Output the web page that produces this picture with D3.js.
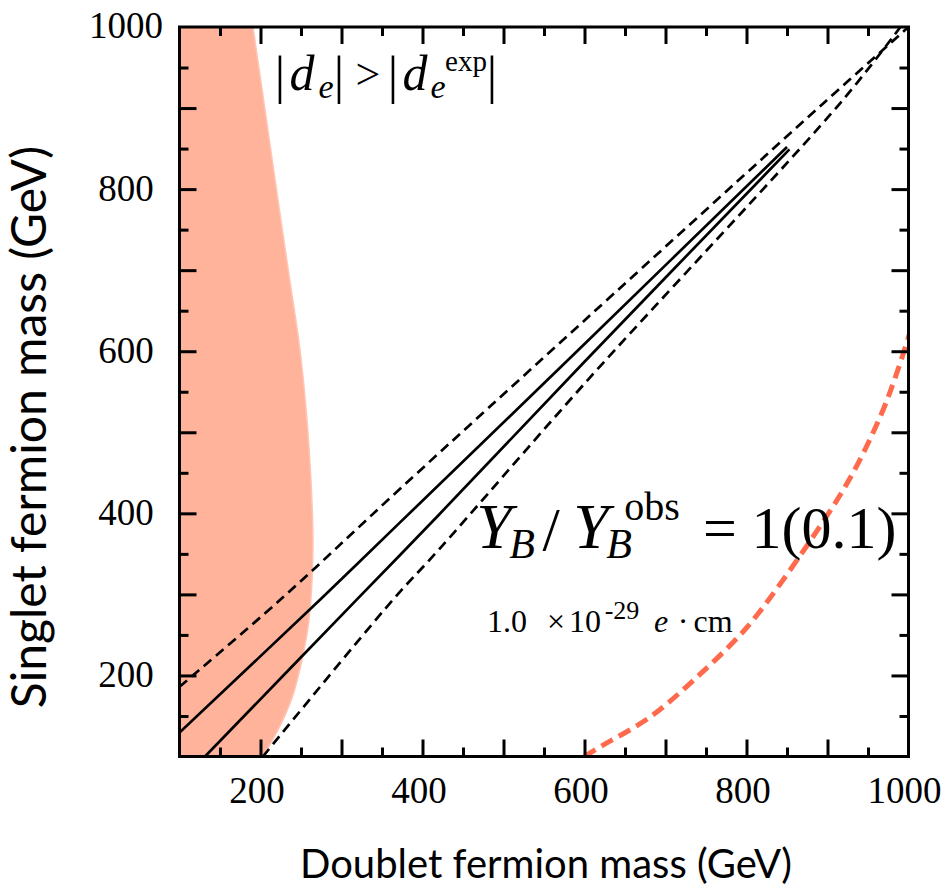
<!DOCTYPE html>
<html>
<head>
<meta charset="utf-8">
<script src="https://cdn.jsdelivr.net/npm/d3@7"></script>
<style>
  html, body { margin: 0; padding: 0; background: #fff; }
  svg { display: block; }
</style>
</head>
<body>
<svg id="chart" width="947" height="890"></svg>
<script>
// Axis ranges and tick values (GeV)
const xDomain = [100, 1000];
const yDomain = [100, 1000];
const majorTicks = [200, 300, 400, 500, 600, 700, 800, 900];
const minorTicks = [150, 250, 350, 450, 550, 650, 750, 850, 950];
const labelledTicks = [200, 400, 600, 800, 1000];

// EDM-excluded region: right boundary (doublet, singlet), top to bottom
const edmBoundary = [
  [190.7, 1000], [205.6, 897.6], [221.6, 786.6], [235.2, 694.1], [248.8, 601.5],
  [257.4, 515.1], [262.3, 441.1], [264.8, 367.1], [263.6, 317.8], [259.9, 268.4],
  [251.2, 219], [238.9, 172.2], [221.6, 132.7], [203, 100]
];

// Y_B / Y_B^obs contours: solid = 1, dashed = 0.1
const solidUpper = [[100, 129.5], [273.5, 293.5], [372, 388.5], [600, 609], [850, 852]];
const solidLower = [[131.5, 100], [318.8, 293.5], [420, 398], [600, 587], [853, 849]];
const dashedUpper = [[100, 186], [224, 293], [372, 430], [600, 638], [894, 905], [1000, 1000]];
const dashedLower = [[203, 100], [363.6, 293.5], [420, 355], [600, 560], [919, 910], [990, 1000]];

// |d_e| = 1.0e-29 e cm contour
const edmContour = [
  [600, 100], [619, 111.7], [681, 148.7], [739, 198.1], [791, 248.7],
  [815, 277], [873.5, 358.5], [926.5, 441], [965, 519], [985.4, 572.7], [1002, 624]
];

const svg = d3.select("#chart");
const plot = { left: 179.5, right: 908.5, top: 27, bottom: 756.5 };

const x = d3.scaleLinear().domain(xDomain).range([plot.left, plot.right]);
const y = d3.scaleLinear().domain(yDomain).range([plot.bottom, plot.top]);

svg.append("defs").append("clipPath").attr("id", "plotClip")
  .append("rect")
  .attr("x", plot.left).attr("y", plot.top)
  .attr("width", plot.right - plot.left).attr("height", plot.bottom - plot.top);

const g = svg.append("g").attr("clip-path", "url(#plotClip)");

// Shaded excluded region
const area = d3.area()
  .y(d => y(d[1]))
  .x0(x(100))
  .x1(d => x(d[0]))
  .curve(d3.curveCatmullRom.alpha(0.5));
g.append("path")
  .datum(edmBoundary)
  .attr("d", area)
  .attr("fill", "#ffb39b")
  .attr("stroke", "#ffc6b5")
  .attr("stroke-width", 1.5);

const line = d3.line().x(d => x(d[0])).y(d => y(d[1])).curve(d3.curveCatmullRom.alpha(0.5));

// EDM contour (red dashed)
g.append("path")
  .datum(edmContour)
  .attr("d", line)
  .attr("fill", "none")
  .attr("stroke", "#ff6a4d")
  .attr("stroke-width", 5)
  .attr("stroke-dasharray", "13,7");

// Baryon asymmetry contours
[dashedUpper, dashedLower].forEach(d => {
  g.append("path").datum(d).attr("d", line)
    .attr("fill", "none").attr("stroke", "#000")
    .attr("stroke-width", 2.7).attr("stroke-dasharray", "10,6");
});
[solidUpper, solidLower].forEach(d => {
  g.append("path").datum(d).attr("d", line)
    .attr("fill", "none").attr("stroke", "#000")
    .attr("stroke-width", 2.7);
});

// Axes: inward ticks on all four sides
const tickFont = "'Liberation Serif', 'Times New Roman', serif";
function drawAxis(gen, transform, ticks, size, labels) {
  const a = svg.append("g").attr("transform", transform)
    .call(gen.tickValues(ticks).tickSizeInner(-size).tickSizeOuter(0)
      .tickPadding(labels ? 20 : 0)
      .tickFormat(labels ? (d => labelledTicks.includes(d) ? d : "") : ""));
  a.select(".domain").remove();
  a.selectAll(".tick line").attr("stroke", "#000").attr("stroke-width", 3);
  a.selectAll("text").attr("font-family", tickFont).attr("font-size", 37).attr("fill", "#000");
  return a;
}
const bottomAx = drawAxis(d3.axisBottom(x), `translate(0,${plot.bottom})`, majorTicks, 17, true);
drawAxis(d3.axisBottom(x), `translate(0,${plot.bottom})`, minorTicks, 9, false);
drawAxis(d3.axisTop(x), `translate(0,${plot.top})`, majorTicks, 17, false);
drawAxis(d3.axisTop(x), `translate(0,${plot.top})`, minorTicks, 9, false);
const leftAx = drawAxis(d3.axisLeft(y), `translate(${plot.left},0)`, majorTicks, 17, true);
drawAxis(d3.axisLeft(y), `translate(${plot.left},0)`, minorTicks, 9, false);
drawAxis(d3.axisRight(y), `translate(${plot.right},0)`, majorTicks, 17, false);
drawAxis(d3.axisRight(y), `translate(${plot.right},0)`, minorTicks, 9, false);

// Corner labels (1000 on both axes) sit on the frame corners
svg.append("text").attr("x", 126).attr("y", y(1000)).attr("dy", "0.3em")
  .attr("text-anchor", "middle").attr("font-family", tickFont).attr("font-size", 37).text("1000");
svg.append("text").attr("x", x(1000) - 4).attr("y", plot.bottom + 20).attr("dy", "0.71em")
  .attr("text-anchor", "middle").attr("font-family", tickFont).attr("font-size", 37).text("1000");

bottomAx.selectAll("text").attr("dx", -4);
leftAx.selectAll("text").attr("text-anchor", "middle").attr("x", 126 - plot.left).attr("dy", "0.3em");

// Frame
svg.append("rect")
  .attr("x", plot.left).attr("y", plot.top)
  .attr("width", plot.right - plot.left).attr("height", plot.bottom - plot.top)
  .attr("fill", "none").attr("stroke", "#000").attr("stroke-width", 3);

// Axis titles
const titleFont = "Lato, 'Open Sans', sans-serif";
svg.append("text")
  .attr("x", 546).attr("y", 878)
  .attr("text-anchor", "middle")
  .attr("font-family", titleFont).attr("font-size", 40)
  .text("Doublet fermion mass (GeV)");
svg.append("text")
  .attr("transform", "translate(46,427) rotate(-90)")
  .attr("text-anchor", "middle")
  .attr("font-family", titleFont).attr("font-size", 48)
  .text("Singlet fermion mass (GeV)");

// Math annotations: one text element per formula, pieces placed as tspans
const mathFont = "'Liberation Serif', 'Times New Roman', serif";
function formula(pieces) {
  const t = svg.append("text")
    .attr("font-family", mathFont)
    .attr("text-anchor", "middle");
  pieces.forEach(([s, cx, by, size, italic]) => {
    t.append("tspan")
      .attr("x", cx).attr("y", by)
      .attr("font-size", size)
      .attr("font-style", italic ? "italic" : "normal")
      .text(s);
  });
}

// |d_e| > |d_e^exp|
formula([
  ["|", 280, 93, 52, false],
  ["d", 302, 90, 50, true],
  ["e", 326, 98, 34, true],
  ["|", 339, 93, 52, false],
  [">", 368, 89, 44, false],
  ["|", 393, 93, 52, false],
  ["d", 415, 90, 50, true],
  ["e", 438, 98, 34, true],
  ["exp", 466, 71, 29, false],
  ["|", 492, 93, 52, false]
]);

// Y_B / Y_B^obs = 1(0.1)
formula([
  ["Y", 494, 548, 64, true],
  ["B", 522, 558, 42, true],
  ["/", 551, 550, 62, false],
  ["Y", 591, 548, 64, true],
  ["B", 619, 558, 42, true],
  ["obs", 652, 520, 40, false],
  ["=", 720, 548, 60, false],
  ["1(0.1)", 824, 548, 60, false]
]);

// 1.0 x 10^-29 e.cm
formula([
  ["1.0", 507, 632, 32, false],
  ["\u00d7", 556, 632, 32, false],
  ["10", 585, 632, 32, false],
  ["-29", 622, 619, 26, false],
  ["e", 661, 632, 32, true],
  ["\u00b7", 683, 632, 32, false],
  ["cm", 713, 632, 32, false]
]);
</script>
</body>
</html>
